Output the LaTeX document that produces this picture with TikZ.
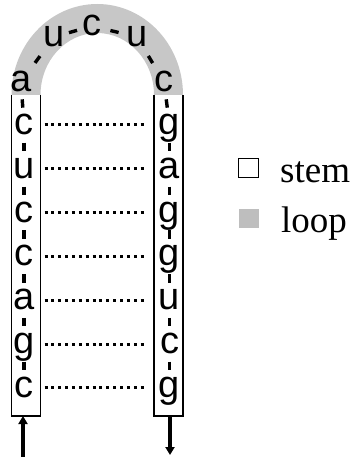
\documentclass[tikz,border=0pt]{standalone}
\usepackage{fontspec}
\setmainfont{Liberation Serif}
\newfontfamily\sansf{Liberation Sans}
\usetikzlibrary{calc,arrows.meta}
\definecolor{loopgray}{RGB}{199,199,199}
\definecolor{keygray}{RGB}{190,190,190}
\newcommand\bnd[2]{\draw[bondline] ($(#1)!0.5!(#2)!4.2pt!(#1)$) -- ($(#1)!0.5!(#2)!4.2pt!(#2)$);}
\begin{document}
\begin{tikzpicture}[x=1pt,y=-1pt,
  nt/.style={inner sep=0pt, text height=19pt, text depth=0pt, anchor=center},
  bondline/.style={line width=3.4pt},
  pairline/.style={line width=3pt, line cap=butt, dash pattern=on 3pt off 3.87pt, shorten <=20.5pt, shorten >=22.5pt},
  boxline/.style={line width=1.1pt},
  arr/.style={line width=3.2pt, -{Triangle[length=8pt,width=9pt]}},
  legsq/.style={minimum width=20pt, minimum height=19pt, inner sep=0pt},
  legtxt/.style={anchor=base west, inner sep=0pt, font=\fontsize{37}{37}\selectfont}]
\useasboundingbox (0,0) rectangle (352,457);
% loop arch
\fill[loopgray] (11.5,95) arc[start angle=180,end angle=360,x radius=85.75,y radius=91]
  -- (154,95) arc[start angle=0,end angle=-180,x radius=56.75,y radius=62] -- cycle;
% stem boxes
\draw[boxline] (11.5,95) -- (11.5,416) -- (40.5,416) -- (40.5,95);
\draw[boxline] (154,95) -- (154,416) -- (183,416) -- (183,95);
\begingroup
\fontsize{38}{38}\sansf
% loop letters
\node[nt] (la) at (21,82) {a};
\node[nt] (lb) at (54,37) {u};
\node[nt] (lc) at (92,26) {c};
\node[nt] (ld) at (137,37) {u};
\node[nt] (le) at (164,82) {c};
% stem letters
\foreach \l [count=\i from 0] in {c,u,c,c,a,g,c}
  \node[nt] (L\i) at (24,125+43.8*\i) {\l};
\foreach \l [count=\i from 0] in {g,a,g,g,u,c,g}
  \node[nt] (R\i) at (169.5,125+43.8*\i) {\l};
\endgroup
\bnd{la}{lb}
\bnd{lb}{lc}
\bnd{lc}{ld}
\bnd{ld}{le}
\bnd{la}{L0}
\bnd{le}{R0}
\foreach \i in {0,...,5}{
  \pgfmathtruncatemacro\j{\i+1}
  \bnd{L\i}{L\j}
  \bnd{R\i}{R\j}
}
\foreach \i in {0,...,6}
  \draw[pairline] (L\i.center) -- (R\i.center);
% arrows
\coordinate (lin) at (23,457);
\coordinate (lbot) at (23,416);
\coordinate (rbot) at (170,416);
\coordinate (rout) at (170,455);
\draw[arr] (lin) -- (lbot);
\draw[arr] (rbot) -- (rout);
% legend
\node[legsq, draw, line width=0.9pt, fill=white] (stemkey) at (248.5,168) {};
\node[legsq, fill=keygray] (loopkey) at (249,218.5) {};
\node[legtxt] (stemtxt) at (280,182) {stem};
\node[legtxt] (looptxt) at (281,232) {loop};
\end{tikzpicture}
\end{document}
